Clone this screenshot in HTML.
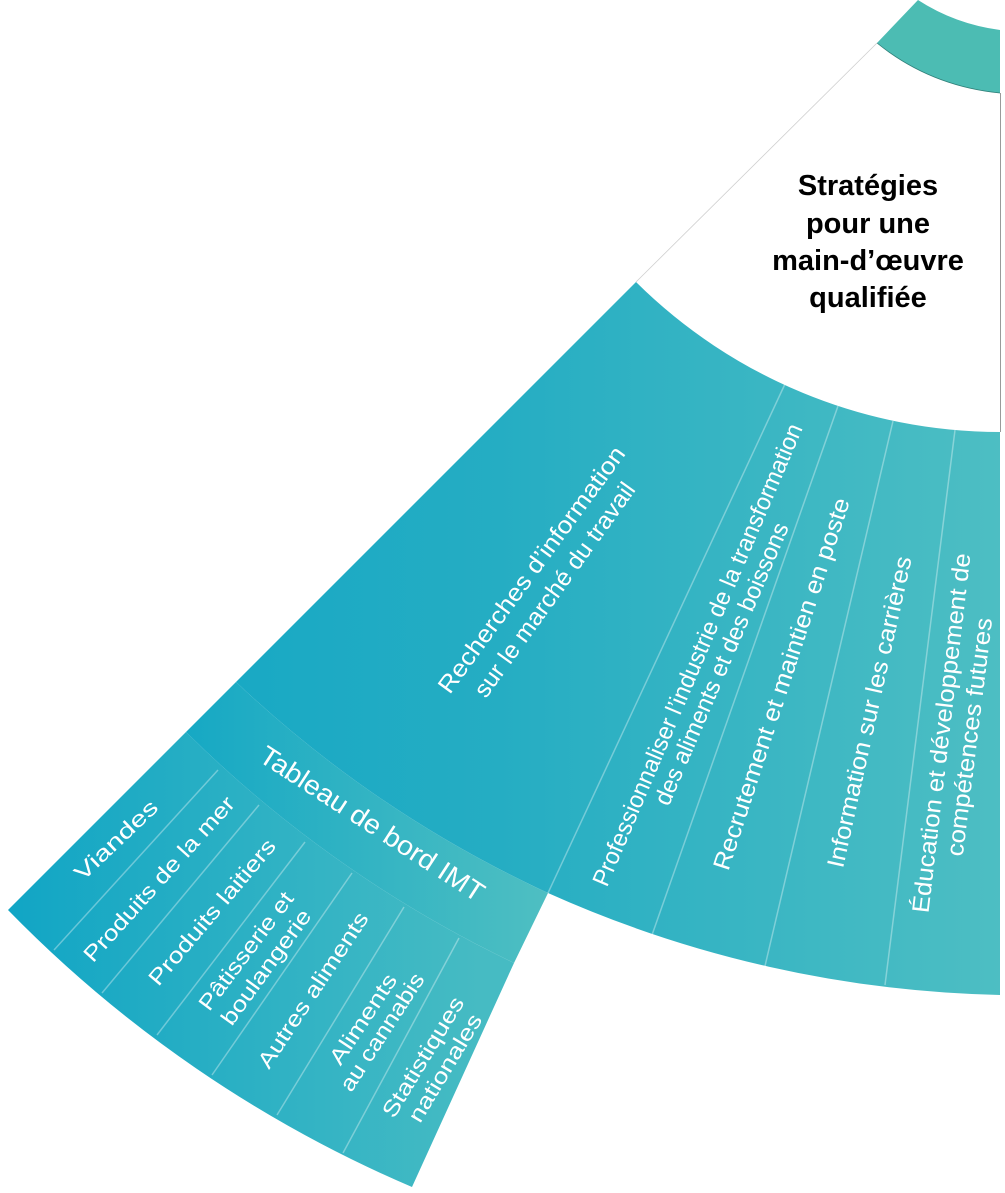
<!DOCTYPE html>
<html><head><meta charset="utf-8"><style>
html,body{margin:0;padding:0;background:#fff;}
svg{display:block;}
text{font-family:"Liberation Sans",sans-serif;fill:#fff;}
</style></head><body>
<svg width="1005" height="1193" viewBox="0 0 1005 1193" xmlns="http://www.w3.org/2000/svg">
<defs>
<linearGradient id="g1" x1="0" y1="0" x2="1000" y2="0" gradientUnits="userSpaceOnUse">
<stop offset="0" stop-color="#0ea5c5"/><stop offset="0.5" stop-color="#25adc3"/><stop offset="1" stop-color="#4dbec3"/>
</linearGradient>
<linearGradient id="g2" x1="180" y1="0" x2="550" y2="0" gradientUnits="userSpaceOnUse">
<stop offset="0" stop-color="#15a8c4"/><stop offset="1" stop-color="#4fbfc2"/>
</linearGradient>
<linearGradient id="g3" x1="0" y1="0" x2="480" y2="0" gradientUnits="userSpaceOnUse">
<stop offset="0" stop-color="#10a5c5"/><stop offset="1" stop-color="#46bbc3"/>
</linearGradient>
</defs>
<path d="M918,0 Q955,24 1000,30 L1000,93 Q930,86 877,43 Z" fill="#4cbcb3"/>
<path d="M1000,93 Q930,86 877,43" fill="none" stroke="#2e7f78" stroke-width="0.8"/>
<line x1="877" y1="43" x2="636" y2="282" stroke="#cfcfcf" stroke-width="0.8"/>
<line x1="1000.5" y1="93" x2="1000.5" y2="432" stroke="#9a9a9a" stroke-width="1"/>
<path d="M8,910 L636,282 L186,732 Z" fill="url(#g3)"/>
<path d="M8,910 L186,732 A1210,1210 0 0 0 514,963 L412,1187 A1250,1250 0 0 1 8,910 Z" fill="url(#g3)"/>
<path d="M636,282 A517,517 0 0 0 1000,432 L1000,995 A1165,1165 0 0 1 548,893 A1165,1165 0 0 1 236,682 Z" fill="url(#g1)"/>
<path d="M236,682 A1165,1165 0 0 0 548,893 L514,963 A1210,1210 0 0 1 186,732 Z" fill="url(#g2)"/>
<g stroke="#ffffff" stroke-opacity="0.35" stroke-width="1.5">
<line x1="785" y1="384" x2="548" y2="893"/>
<line x1="838" y1="406" x2="652" y2="935"/>
<line x1="893" y1="421" x2="765" y2="966"/>
<line x1="955" y1="430" x2="885" y2="985"/>
<line x1="218" y1="770" x2="54" y2="950"/>
<line x1="259" y1="805" x2="102" y2="993"/>
<line x1="305" y1="842" x2="157" y2="1035"/>
<line x1="352" y1="873" x2="212" y2="1075"/>
<line x1="404" y1="907" x2="277" y2="1115"/>
<line x1="459" y1="938" x2="343" y2="1153"/>
</g>
<g font-weight="bold" font-size="29" text-anchor="middle">
<text x="868" y="195" style="fill:#000">Stratégies</text>
<text x="868" y="233" style="fill:#000">pour une</text>
<text x="868" y="270" style="fill:#000">main-d’œuvre</text>
<text x="868" y="307" style="fill:#000">qualifiée</text>
</g>
<g font-size="24" text-anchor="middle" dominant-baseline="central">
<text transform="translate(532,570) rotate(-53.8)" textLength="299" lengthAdjust="spacingAndGlyphs">Recherches d’information</text>
<text transform="translate(555,590) rotate(-54.3)" textLength="258" lengthAdjust="spacingAndGlyphs">sur le marché du travail</text>
<text transform="translate(698,655) rotate(-66.9)" textLength="500" lengthAdjust="spacingAndGlyphs">Professionnaliser l’industrie de la transformation</text>
<text transform="translate(722,664) rotate(-66.7)" textLength="305" lengthAdjust="spacingAndGlyphs">des aliments et des boissons</text>
<text transform="translate(782,684) rotate(-71.8)" textLength="390" lengthAdjust="spacingAndGlyphs">Recrutement et maintien en poste</text>
<text transform="translate(870,712) rotate(-77.5)" textLength="318" lengthAdjust="spacingAndGlyphs">Information sur les carrières</text>
<text transform="translate(942,733) rotate(-83.3)" textLength="362" lengthAdjust="spacingAndGlyphs">Éducation et développement de</text>
<text transform="translate(970,737) rotate(-82.9)" textLength="240" lengthAdjust="spacingAndGlyphs">compétences futures</text>
<text font-size="27" transform="translate(372,824) rotate(33)" textLength="262" lengthAdjust="spacingAndGlyphs">Tableau de bord IMT</text>
</g>
<g font-size="22" text-anchor="middle" dominant-baseline="central">
<text transform="translate(116,840) rotate(-43.5)" textLength="106" lengthAdjust="spacingAndGlyphs">Viandes</text>
<text transform="translate(159,879) rotate(-48)" textLength="214" lengthAdjust="spacingAndGlyphs">Produits de la mer</text>
<text transform="translate(212,912) rotate(-49.8)" textLength="184" lengthAdjust="spacingAndGlyphs">Produits laitiers</text>
<text transform="translate(246,951) rotate(-53)" textLength="142" lengthAdjust="spacingAndGlyphs">Pâtisserie et</text>
<text transform="translate(266,967) rotate(-54)" textLength="137" lengthAdjust="spacingAndGlyphs">boulangerie</text>
<text transform="translate(313,990) rotate(-56.5)" textLength="182" lengthAdjust="spacingAndGlyphs">Autres aliments</text>
<text transform="translate(363,1019) rotate(-56.5)" textLength="104" lengthAdjust="spacingAndGlyphs">Aliments</text>
<text transform="translate(382,1032) rotate(-57)" textLength="136" lengthAdjust="spacingAndGlyphs">au cannabis</text>
<text transform="translate(423,1057) rotate(-58.7)" textLength="137" lengthAdjust="spacingAndGlyphs">Statistiques</text>
<text transform="translate(445,1068) rotate(-59)" textLength="122" lengthAdjust="spacingAndGlyphs">nationales</text>
</g>
</svg>
</body></html>
